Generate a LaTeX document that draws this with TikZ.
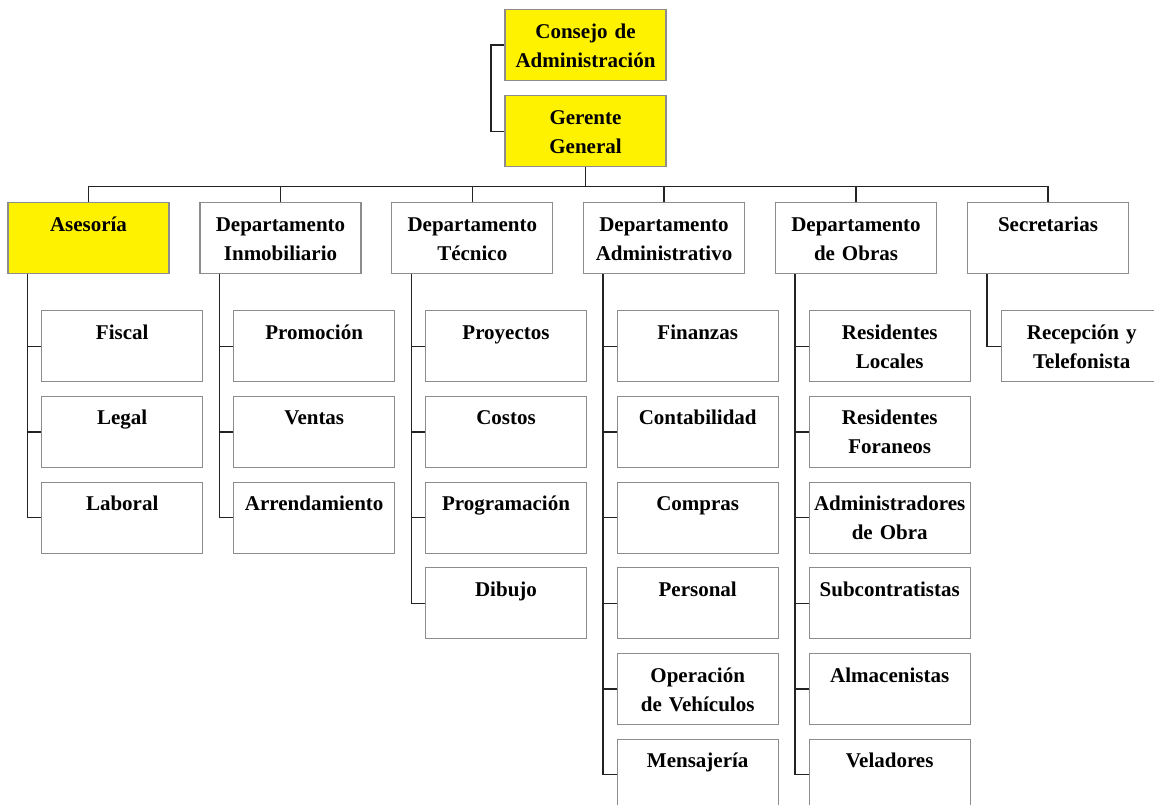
\documentclass[tikz,border=0pt]{standalone}
\usepackage{fontspec}
\setmainfont{Liberation Serif}
\definecolor{boxgray}{RGB}{140,140,140}
\definecolor{linegray}{RGB}{35,35,35}
\begin{document}
\begin{tikzpicture}[
        x=1pt, y=-1pt,
        unit/.style={
            rectangle,
            draw=boxgray,
            line width=1.1pt,
            fill=white,
            align=center,
            text width=161pt,
            text height=28.5pt,
            text depth=42.5pt,
            inner xsep=0pt,
            inner ysep=0pt,
            font=\fontsize{21pt}{29pt}\selectfont\bfseries
        },
        head/.style={unit, fill=yellow},
        link/.style={draw=linegray, line width=1.2pt}
    ]

        \clip (0,0) rectangle (1154,804);

        % direccion
        \node[head] (consejo) at (585.5,45) {Consejo de\\Administración};
        \node[head] (gerente) at (585.5,131.3) {Gerente\\General};

        % departamentos
        \node[head] (asesoria) at (88.5,238.3) {Asesoría};
        \node[unit] (inmob) at (280.5,238.3) {Departamento\\Inmobiliario};
        \node[unit] (tecnico) at (472.3,238.3) {Departamento\\Técnico};
        \node[unit] (admin) at (664,238.3) {Departamento\\Administrativo};
        \node[unit] (obras) at (856,238.3) {Departamento\\de Obras};
        \node[unit] (secret) at (1048,238.3) {Secretarias};

        % areas
        \node[unit] (fiscal) at (122.2,346.2) {Fiscal};
        \node[unit] (legal) at (122.2,431.9) {Legal};
        \node[unit] (laboral) at (122.2,517.6) {Laboral};

        \node[unit] (promo) at (314.2,346.2) {Promoción};
        \node[unit] (ventas) at (314.2,431.9) {Ventas};
        \node[unit] (arrend) at (314.2,517.6) {Arrendamiento};

        \node[unit] (proyectos) at (506,346.2) {Proyectos};
        \node[unit] (costos) at (506,431.9) {Costos};
        \node[unit] (program) at (506,517.6) {Programación};
        \node[unit] (dibujo) at (506,603.3) {Dibujo};

        \node[unit] (finanzas) at (697.7,346.2) {Finanzas};
        \node[unit] (conta) at (697.7,431.9) {Contabilidad};
        \node[unit] (compras) at (697.7,517.6) {Compras};
        \node[unit] (personal) at (697.7,603.3) {Personal};
        \node[unit] (vehic) at (697.7,689) {Operación\\de Vehículos};
        \node[unit] (mensaj) at (697.7,774.7) {Mensajería};

        \node[unit] (reslocal) at (889.7,346.2) {Residentes\\Locales};
        \node[unit] (resfor) at (889.7,431.9) {Residentes\\Foraneos};
        \node[unit] (adminobra) at (889.7,517.6) {Administradores\\de Obra};
        \node[unit] (subcon) at (889.7,603.3) {Subcontratistas};
        \node[unit] (almacen) at (889.7,689) {Almacenistas};
        \node[unit] (velad) at (889.7,774.7) {Veladores};

        \node[unit] (recep) at (1081.7,346.2) {Recepción y\\Telefonista};

        % lineas de mando
        \draw[link] (consejo.west) -- ++(-13.5,0) |- (gerente.west);
        \draw[link] (gerente.south) -- ++(0,19.3) coordinate (bus);
        \draw[link] (bus) -| (asesoria.north);
        \draw[link] (bus) -| (inmob.north);
        \draw[link] (bus) -| (tecnico.north);
        \draw[link] (bus) -| (admin.north);
        \draw[link] (bus) -| (obras.north);
        \draw[link] (bus) -| (secret.north);

        \draw[link] ([xshift=20pt]asesoria.south west) |- (fiscal.west);
        \draw[link] ([xshift=20pt]asesoria.south west) |- (legal.west);
        \draw[link] ([xshift=20pt]asesoria.south west) |- (laboral.west);

        \draw[link] ([xshift=20pt]inmob.south west) |- (promo.west);
        \draw[link] ([xshift=20pt]inmob.south west) |- (ventas.west);
        \draw[link] ([xshift=20pt]inmob.south west) |- (arrend.west);

        \draw[link] ([xshift=20pt]tecnico.south west) |- (proyectos.west);
        \draw[link] ([xshift=20pt]tecnico.south west) |- (costos.west);
        \draw[link] ([xshift=20pt]tecnico.south west) |- (program.west);
        \draw[link] ([xshift=20pt]tecnico.south west) |- (dibujo.west);

        \draw[link] ([xshift=20pt]admin.south west) |- (finanzas.west);
        \draw[link] ([xshift=20pt]admin.south west) |- (conta.west);
        \draw[link] ([xshift=20pt]admin.south west) |- (compras.west);
        \draw[link] ([xshift=20pt]admin.south west) |- (personal.west);
        \draw[link] ([xshift=20pt]admin.south west) |- (vehic.west);
        \draw[link] ([xshift=20pt]admin.south west) |- (mensaj.west);

        \draw[link] ([xshift=20pt]obras.south west) |- (reslocal.west);
        \draw[link] ([xshift=20pt]obras.south west) |- (resfor.west);
        \draw[link] ([xshift=20pt]obras.south west) |- (adminobra.west);
        \draw[link] ([xshift=20pt]obras.south west) |- (subcon.west);
        \draw[link] ([xshift=20pt]obras.south west) |- (almacen.west);
        \draw[link] ([xshift=20pt]obras.south west) |- (velad.west);

        \draw[link] ([xshift=20pt]secret.south west) |- (recep.west);

    \end{tikzpicture}
\end{document}
